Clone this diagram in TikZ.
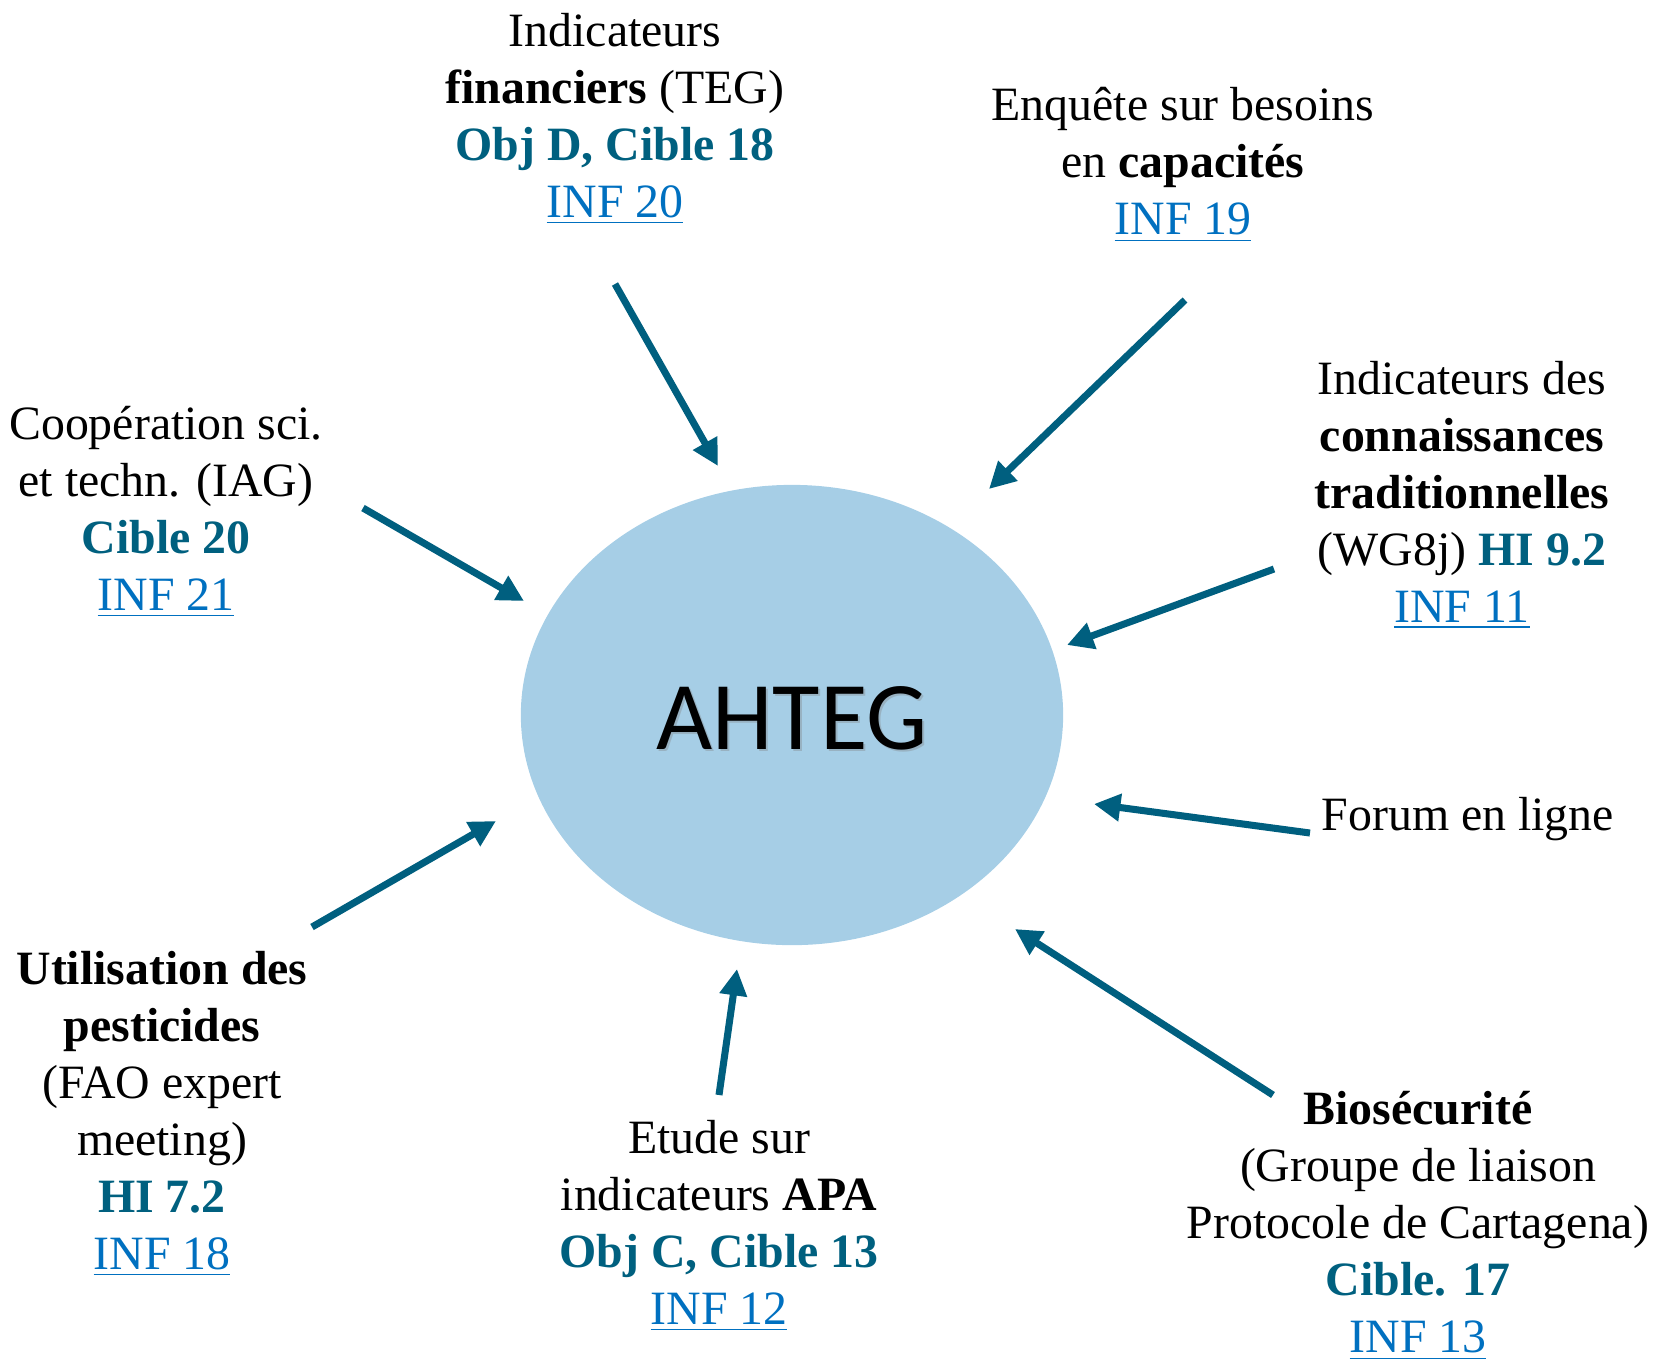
\documentclass[tikz,border=0pt]{standalone}
\usepackage{fontspec}
\setmainfont{Liberation Serif}
\newfontfamily\calfont{Carlito}
\usetikzlibrary{arrows.meta}
\usetikzlibrary{shapes.geometric}
\definecolor{arrowteal}{HTML}{005F7F}
\definecolor{cibleteal}{HTML}{00607F}
\definecolor{linkblue}{HTML}{0070C0}
\definecolor{ellfill}{HTML}{A6CEE6}
\newcommand{\cible}[1]{\textcolor{cibleteal}{\textbf{#1}}}
\newcommand{\infdoc}[1]{\textcolor{linkblue}{\underline{#1}}}

\begin{document}
\begin{tikzpicture}[x=0.01cm,y=-0.01cm,
    lbl/.style={align=center,inner sep=0pt,font=\fontsize{13.6}{16.2}\selectfont},
    feed/.style={draw=arrowteal,line width=2pt,-{Triangle[length=7.5pt,width=7.5pt]}}]
      \useasboundingbox (0,0) rectangle (1659,1359);
      % centre
      \node[ellipse,fill=ellfill,minimum width=5.42cm,minimum height=4.6cm] (ahteg) at (792,715) {};
      \node[gray,opacity=.35,font=\calfont\fontsize{27.6}{30}\selectfont] (ahtegsh) at (794,720) {AHTEG};
      \node[font=\calfont\fontsize{27.6}{30}\selectfont] (ahtegtxt) at (792,718) {AHTEG};
      % sources
      \node[lbl] (teg) at (615,119) {Indicateurs\\\textbf{financiers} (TEG)\\\cible{Obj D, Cible 18}\\\infdoc{INF 20}};
      \node[lbl] (enq) at (1183,165) {Enqu\^ete sur besoins\\en \textbf{capacit\'es}\\\infdoc{INF 19}};
      \node[lbl] (conn) at (1462,495) {Indicateurs des\\\textbf{connaissances}\\\textbf{traditionnelles}\\(WG8j) \cible{HI 9.2}\\\infdoc{INF 11}};
      \node[lbl,anchor=west] (forum) at (1321,819) {Forum en ligne};
      \node[lbl] (bio) at (1418,1226) {\textbf{Bios\'ecurit\'e}\\(Groupe de liaison\\Protocole de Cartagena)\\\cible{Cible. 17}\\\infdoc{INF 13}};
      \node[lbl] (etude) at (719,1226) {Etude sur\\indicateurs \textbf{APA}\\\cible{Obj C, Cible 13}\\\infdoc{INF 12}};
      \node[lbl] (pest) at (162,1114) {\textbf{Utilisation des}\\\textbf{pesticides}\\(FAO expert\\meeting)\\\cible{HI 7.2}\\\infdoc{INF 18}};
      \node[lbl] (coop) at (166,512) {Coop\'eration sci.\\et techn. (IAG)\\\cible{Cible 20}\\\infdoc{INF 21}};
      % arrow ends
      \coordinate (tegA) at (615,284);   \coordinate (tegB) at (718,466);
      \coordinate (enqA) at (1185,300);  \coordinate (enqB) at (989,489);
      \coordinate (connA) at (1274,569); \coordinate (connB) at (1067,645);
      \coordinate (forumA) at (1310,833);\coordinate (forumB) at (1094,804);
      \coordinate (bioA) at (1273,1095); \coordinate (bioB) at (1015,929);
      \coordinate (etudeA) at (719,1095);\coordinate (etudeB) at (737,969);
      \coordinate (pestA) at (312,927);  \coordinate (pestB) at (496,821);
      \coordinate (coopA) at (363,508);  \coordinate (coopB) at (524,601);
      \draw[feed] (tegA) -- (tegB);
      \draw[feed] (enqA) -- (enqB);
      \draw[feed] (connA) -- (connB);
      \draw[feed] (forumA) -- (forumB);
      \draw[feed] (bioA) -- (bioB);
      \draw[feed] (etudeA) -- (etudeB);
      \draw[feed] (pestA) -- (pestB);
      \draw[feed] (coopA) -- (coopB);
\end{tikzpicture}
\end{document}
